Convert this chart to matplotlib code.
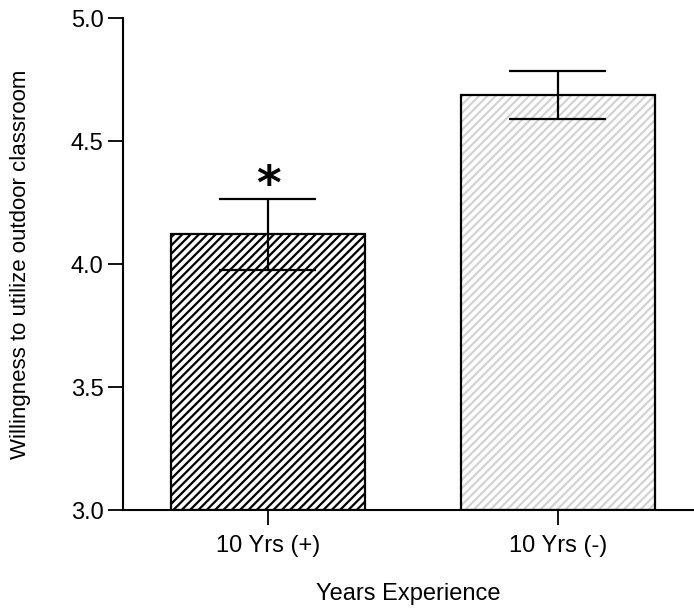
import matplotlib
matplotlib.use("Agg")
import matplotlib.pyplot as plt
from matplotlib import font_manager

categories = ["10 Yrs (+)", "10 Yrs (-)"]
means = [4.12, 4.688]
sems = [0.145, 0.097]
significance = ["*", ""]
yticks = [3.0, 3.5, 4.0, 4.5, 5.0]
hatch_colors = ["black", "#d3d3d3"]

avail = {f.name for f in font_manager.fontManager.ttflist}
fam = "Liberation Sans Narrow" if "Liberation Sans Narrow" in avail else "Liberation Sans"
plt.rcParams["font.family"] = [fam, "DejaVu Sans"]
plt.rcParams["hatch.linewidth"] = 1.6

fig = plt.figure(figsize=(6.94, 6.13), dpi=100)
ax = fig.add_axes([0.1772, 0.168, 1 - 0.1772, 0.9706 - 0.168])

x = list(range(len(categories)))
width = 0.669
for xi, m, hc in zip(x, means, hatch_colors):
    ax.bar(xi, m - 3.0, bottom=3.0, width=width, facecolor="white",
           edgecolor=hc, hatch="////", linewidth=0, zorder=2)
    ax.bar(xi, m - 3.0, bottom=3.0, width=width, facecolor="none",
           edgecolor="black", linewidth=1.6, zorder=3)

for xi, m, s, sig in zip(x, means, sems, significance):
    ax.vlines(xi, m - s, m + s, color="black", linewidth=1.6, zorder=4)
    ax.hlines([m - s, m + s], xi - width / 4, xi + width / 4, color="black",
              linewidth=1.6, zorder=4)
    if sig:
        ax.annotate(sig, (xi, m + s), xytext=(0, 0), textcoords="offset points",
                    ha="center", va="baseline", fontsize=34, fontweight="bold",
                    family="DejaVu Sans")

ax.set_ylim(3.0, 5.0)
ax.set_xlim(-0.5, 1.469)
ax.set_yticks(yticks)
ax.set_yticklabels([f"{v:.1f}" for v in yticks])
ax.set_xticks(x)
ax.set_xticklabels(categories)
ax.spines["top"].set_visible(False)
ax.spines["right"].set_visible(False)
for sp in ["left", "bottom"]:
    ax.spines[sp].set_linewidth(1.5)
ax.tick_params(axis="both", direction="out", length=11, width=1.3,
               labelsize=17, pad=3)
ax.tick_params(axis="x", labelsize=17, pad=7)
ax.set_ylabel("Willingness to utilize outdoor classroom", fontsize=16, labelpad=29)
ax.set_xlabel("Years Experience", fontsize=17, labelpad=19)

fig.savefig("out.png", dpi=100)
